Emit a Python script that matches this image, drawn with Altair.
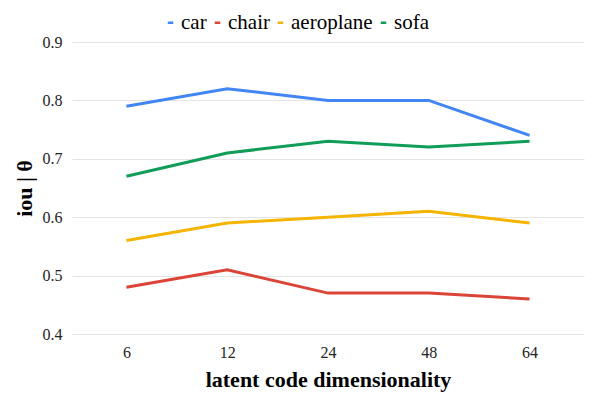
import altair as alt
import pandas as pd

dims = ["6", "12", "24", "48", "64"]
series = ["car", "chair", "aeroplane", "sofa"]
car = [0.79, 0.82, 0.80, 0.80, 0.74]
chair = [0.48, 0.51, 0.47, 0.47, 0.46]
aeroplane = [0.56, 0.59, 0.60, 0.61, 0.59]
sofa = [0.67, 0.71, 0.73, 0.72, 0.73]
colors = ["#4285F4", "#DB4437", "#F4B400", "#0F9D58"]
y_ticks = [0.4, 0.5, 0.6, 0.7, 0.8, 0.9]

rows = []
for name, vals in zip(series, [car, chair, aeroplane, sofa]):
    for d, v in zip(dims, vals):
        rows.append({"dim": d, "iou": v, "cls": name})
df = pd.DataFrame(rows)

FONT = "Liberation Serif"

chart = alt.Chart(df).mark_line(strokeWidth=3).encode(
    x=alt.X("dim:O", sort=dims,
            scale=alt.Scale(type="point", padding=0.54),
            axis=alt.Axis(title="latent code dimensionality", labelAngle=0,
                          ticks=False, domain=False, grid=False,
                          labelFont=FONT, labelFontSize=16, labelColor="#222222",
                          labelPadding=10, titleFont=FONT, titleFontSize=22,
                          titleFontWeight="bold", titleColor="#000000",
                          titlePadding=9)),
    y=alt.Y("iou:Q", scale=alt.Scale(domain=[0.4, 0.9], nice=False, zero=False),
            axis=alt.Axis(title="iou | θ", values=y_ticks, format=".1f",
                          ticks=False, domain=False, grid=True,
                          gridColor="#e4e4e4", gridWidth=1,
                          labelFont=FONT, labelFontSize=16, labelColor="#222222",
                          labelPadding=10, titleFont=FONT, titleFontSize=22,
                          titleFontWeight="bold", titleColor="#000000",
                          titlePadding=6)),
    color=alt.Color("cls:N", sort=series,
                    scale=alt.Scale(domain=series, range=colors),
                    legend=alt.Legend(title=None, orient="none", direction="horizontal",
                                      legendX=88, legendY=-30,
                                      symbolType="stroke", symbolSize=30,
                                      symbolStrokeWidth=2.5,
                                      labelFont=FONT, labelFontSize=21,
                                      labelColor="#000000", labelOffset=0,
                                      columnPadding=0)),
).properties(
    width=512, height=292,
    autosize=alt.AutoSizeParams(type="none"),
    padding={"left": 64, "top": 34, "right": 6, "bottom": 60},
).configure(font=FONT).configure_view(stroke=None)

chart.save("out.html", embed_options={"renderer": "svg", "actions": False})
